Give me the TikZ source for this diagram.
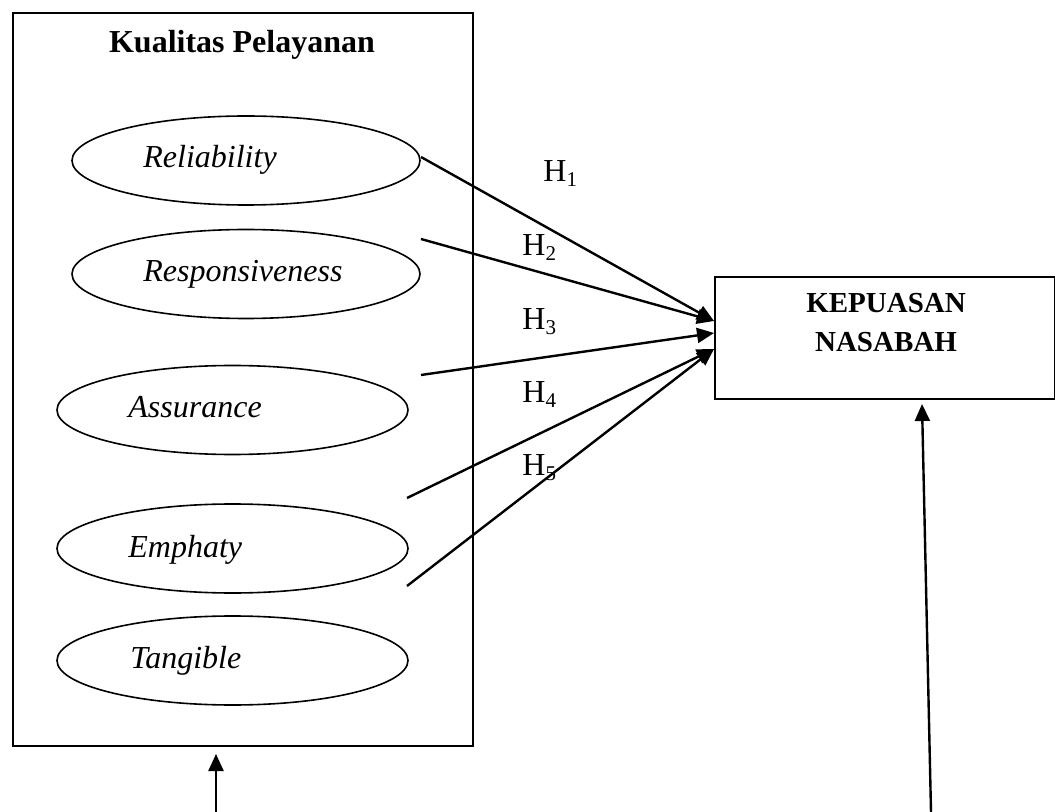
\documentclass[tikz,border=0pt]{standalone}
\usepackage{fontspec}
\setmainfont{Liberation Serif}
\usetikzlibrary{arrows.meta,shapes.geometric}
\newcommand{\Hsub}[1]{H\raisebox{-2.2pt}{\fontsize{10.5}{10}\selectfont #1}}
\begin{document}
\begin{tikzpicture}[x=0.5pt,y=-0.5pt,
  frame/.style={draw,line width=1pt,inner sep=0pt,anchor=north west},
  dim/.style={draw,ellipse,line width=0.8pt,inner sep=0pt,minimum height=44.5pt},
  dimtext/.style={anchor=base west,inner sep=0pt,font=\fontsize{16}{19}\selectfont\itshape},
  hlab/.style={anchor=base west,inner sep=0pt,font=\fontsize{16}{19}\selectfont},
  conn/.style={line width=1.2pt,-{Triangle[length=8.5pt,width=7.5pt]}}]
\useasboundingbox (0,0) rectangle (1055,812);
% boxes
\node[frame,minimum width=230pt,minimum height=366.5pt] (kp) at (12,12) {};
\node[anchor=base,inner sep=0pt,font=\fontsize{16}{19}\selectfont\bfseries] (kpt) at (242,53) {Kualitas Pelayanan};
\node[frame,minimum width=170pt,minimum height=61pt] (kn) at (714,276) {};
\node[anchor=base,inner sep=0pt,align=center,font=\fontsize{14.5}{19.5}\selectfont\bfseries] (knt) at (886,352) {KEPUASAN\\NASABAH};
% ellipses
\node[dim,minimum width=174pt] (rel) at (246,160.5) {};
\node[dim,minimum width=174pt] (res) at (246,274) {};
\node[dim,minimum width=175.5pt] (ass) at (232.5,410) {};
\node[dim,minimum width=175.5pt] (emp) at (232.5,548.5) {};
\node[dim,minimum width=175.5pt] (tan) at (232.5,660.5) {};
\node[dimtext] (relt) at (143,168) {Reliability};
\node[dimtext] (rest) at (143,282) {Responsiveness};
\node[dimtext] (asst) at (128,418) {Assurance};
\node[dimtext] (empt) at (128,557) {Emphaty};
\node[dimtext] (tant) at (130,668) {Tangible};
% hypothesis labels
\node[hlab] (h1) at (543,182) {\Hsub{1}};
\node[hlab] (h2) at (522,256) {\Hsub{2}};
\node[hlab] (h3) at (522,330) {\Hsub{3}};
\node[hlab] (h4) at (522,403) {\Hsub{4}};
\node[hlab] (h5) at (522,476) {\Hsub{5}};
% connector end points
\coordinate (s1) at (421,157);
\coordinate (s2) at (421,239);
\coordinate (s3) at (421,375);
\coordinate (s4) at (407,498);
\coordinate (s5) at (407,586);
\path (kn.north west) ++(0,45) coordinate (e12);
\path (kn.north west) ++(0,57) coordinate (e3);
\path (kn.north west) ++(0,73) coordinate (e45);
\draw[conn] (s1) -- (e12);
\draw[conn] (s2) -- (e12);
\draw[conn] (s3) -- (e3);
\draw[conn] (s4) -- (e45);
\draw[conn] (s5) -- (e45);
% bottom arrows
\coordinate (b1) at (216,812);
\coordinate (t1) at (216,754);
\coordinate (b2) at (931,812);
\coordinate (t2) at (922,404);
\draw[conn] (b1) -- (t1);
\draw[conn] (b2) -- (t2);
\end{tikzpicture}
\end{document}
